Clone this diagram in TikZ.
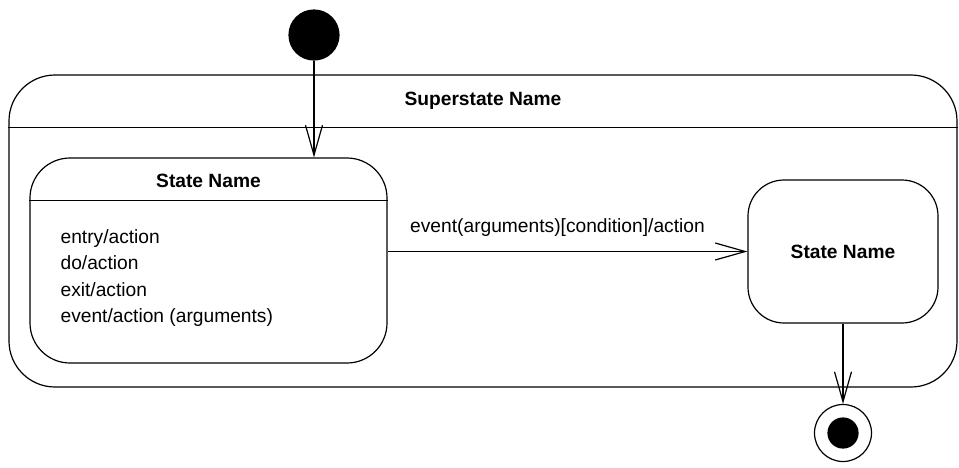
\documentclass[tikz,border=0pt]{standalone}
\usepackage{fontspec}
\setmainfont{Liberation Sans}
\usetikzlibrary{arrows.meta, shapes, positioning, calc}

\begin{document}
\begin{tikzpicture}[
        x=0.5pt, y=-0.5pt,
        font=\fontsize{9.6}{13.3}\selectfont,
        box/.style={draw, rectangle, rounded corners=#1, inner sep=0pt},
        title/.style={font=\fontsize{9.6}{13}\selectfont\bfseries, inner sep=0pt},
        dot/.style={circle, fill=black, draw=black, inner sep=0pt},
        arr/.style={-{Straight Barb[length=15pt, width=8.5pt]}, line width=0.6pt}
      ]
      \useasboundingbox (0,0) rectangle (959,467);
      \tikzset{every path/.append style={line width=0.6pt}}

      % superstate and its compartment line
      \node[box=23pt, minimum width=474pt, minimum height=156pt] (super) at (483,231) {};
      \draw ([yshift=-26.5pt]super.north west) -- ([yshift=-26.5pt]super.north east);
      \node[title] (superName) at (483,101) {Superstate Name};

      % first state with internal activities
      \node[box=20pt, minimum width=178.5pt, minimum height=102.5pt] (s1) at (208.5,260.5) {};
      \draw ([yshift=-21.5pt]s1.north west) -- ([yshift=-21.5pt]s1.north east);
      \node[title] (s1Name) at (208.5,181) {State Name};
      \node[anchor=west, align=left, inner sep=0pt] (s1Body) at (60,278)
        {entry/action\\ do/action\\ exit/action\\ event/action (arguments)};

      % second state
      \node[box=18pt, minimum width=95pt, minimum height=71.5pt] (s2) at (843,251.5) {};
      \node[title] (s2Name) at (s2) {State Name};

      % pseudo states
      \node[dot, minimum size=25pt] (init) at (314,35) {};
      \node[draw, circle, inner sep=0pt, minimum size=28.5pt] (final) at (843,433) {};
      \node[dot, minimum size=15pt] (finalDot) at (final) {};

      % transitions
      \draw[arr] (init) -- (init |- s1.north);
      \draw[arr] (s2.west -| s1.east) -- (s2.west)
        node[midway, above=7pt, xshift=-5pt, inner sep=0pt]
        {event(arguments)[condition]/action};
      \draw[arr] (s2.south) -- (final.north);
    \end{tikzpicture}
\end{document}
